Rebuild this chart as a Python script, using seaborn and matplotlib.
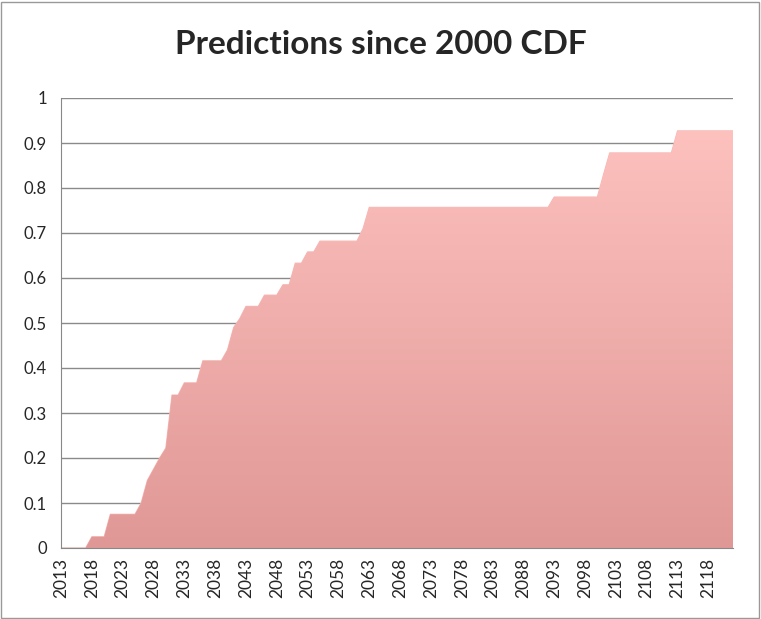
import numpy as np
import pandas as pd
import matplotlib
matplotlib.use("Agg")
import matplotlib.pyplot as plt
import seaborn as sns
from matplotlib.patches import Rectangle

years = list(range(2013, 2123))
known = {2013: 0, 2017: 0, 2018: 0.025, 2020: 0.025, 2021: 0.075, 2025: 0.075, 2026: 0.1,
         2027: 0.15, 2028: 0.175, 2029: 0.2, 2030: 0.222, 2031: 0.34, 2032: 0.34,
         2033: 0.367, 2035: 0.367, 2036: 0.416, 2039: 0.416, 2040: 0.44, 2041: 0.49,
         2042: 0.51, 2043: 0.537, 2045: 0.537, 2046: 0.562, 2048: 0.562, 2049: 0.585,
         2050: 0.585, 2051: 0.633, 2052: 0.633, 2053: 0.658, 2054: 0.658, 2055: 0.682,
         2061: 0.682, 2062: 0.71, 2063: 0.757, 2092: 0.757, 2093: 0.78, 2100: 0.78,
         2101: 0.83, 2102: 0.878, 2112: 0.878, 2113: 0.927, 2122: 0.927}
# step values: carry the last read value forward (flat segments)
values = []
last = 0
for y in years:
    if y in known:
        last = known[y]
    values.append(last)

df = pd.DataFrame({"year": years, "cdf": values})

sns.set_style("white")
fig = plt.figure(figsize=(7.61, 6.19), dpi=100)
ax = fig.add_axes([61/761, 1-548/619, 672/761, 450/619])
sns.lineplot(data=df, x="year", y="cdf", ax=ax, color="#f7b6b3", linewidth=0.8)
poly = ax.fill_between(df["year"], 0, df["cdf"], color="none")
grad = np.linspace(0, 1, 256).reshape(-1, 1)
cmap = matplotlib.colors.LinearSegmentedColormap.from_list("g", ["#e09896", "#fdc1be"])
im = ax.imshow(grad, aspect="auto", cmap=cmap, origin="lower",
               extent=[2013, 2122, 0, 0.93], zorder=2)
im.set_clip_path(poly.get_paths()[0], transform=ax.transData)

ax.set_xlim(2013, 2122)
ax.set_ylim(0, 1)
ax.set_yticks(np.arange(0, 1.01, 0.1))
ax.set_yticklabels(["0", "0.1", "0.2", "0.3", "0.4", "0.5", "0.6", "0.7", "0.8", "0.9", "1"])
ax.set_xticks(list(range(2013, 2122, 5)))
ax.set_xticklabels([str(y) for y in range(2013, 2122, 5)], rotation=90)
ax.set_xticks(years, minor=True)
ax.tick_params(axis="x", which="both", direction="out", length=4, color="#888888",
               labelsize=12.5, pad=3)
ax.tick_params(axis="y", length=0, labelsize=12, pad=10)
ax.grid(axis="y", color="#8a8a8a", linewidth=1)
ax.set_axisbelow(True)
for s in ["top", "right"]:
    ax.spines[s].set_visible(False)
for s in ["left", "bottom"]:
    ax.spines[s].set_color("#888888")
ax.set_xlabel("")
ax.set_ylabel("")
for lab in ax.get_xticklabels() + ax.get_yticklabels():
    lab.set_fontfamily("Lato")
fig.text(0.5, 1-45/619, "Predictions since 2000 CDF", ha="center", va="center",
         fontsize=24, fontweight="bold", fontfamily="Lato")
fig.patches.append(Rectangle((1/761, 1/619), 758/761, 616/619, transform=fig.transFigure,
                             fill=False, edgecolor="#999999", linewidth=1))
fig.savefig("out.png", dpi=100)
